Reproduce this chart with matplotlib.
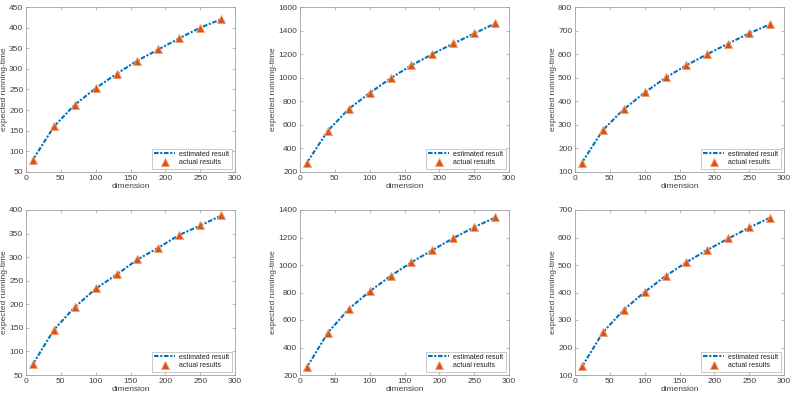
import matplotlib
matplotlib.use("Agg")
import matplotlib.pyplot as plt

plt.rcParams['font.family'] = ['Liberation Sans', 'DejaVu Sans']

dimension = [10, 40, 70, 100, 130, 160, 190, 220, 250, 280]

estimated = [
    [80, 160, 213, 253, 288, 320, 347, 374, 400, 420],
    [280, 550, 735, 870, 995, 1105, 1200, 1290, 1375, 1460],
    [140, 278, 366, 437, 500, 553, 600, 645, 688, 727],
    [73, 146, 194, 233, 263, 295, 320, 347, 367, 388],
    [258, 508, 680, 808, 920, 1020, 1108, 1195, 1275, 1345],
    [130, 255, 337, 402, 460, 510, 555, 596, 636, 672],
]
actual = [
    [80, 161, 213, 253, 288, 320, 347, 375, 400, 420],
    [280, 552, 735, 872, 997, 1105, 1202, 1292, 1377, 1460],
    [140, 279, 367, 438, 501, 554, 601, 645, 689, 727],
    [74, 146, 194, 234, 264, 296, 320, 347, 368, 389],
    [258, 508, 681, 808, 921, 1021, 1108, 1196, 1276, 1347],
    [131, 256, 338, 402, 460, 510, 556, 597, 637, 672],
]

ylims = [(50, 450), (200, 1600), (100, 800), (50, 400), (200, 1400), (100, 700)]
yticks = [
    list(range(50, 451, 50)),
    list(range(200, 1601, 200)),
    list(range(100, 801, 100)),
    list(range(50, 401, 50)),
    list(range(200, 1401, 200)),
    list(range(100, 701, 100)),
]
xticks = [0, 50, 100, 150, 200, 250, 300]

fig = plt.figure(figsize=(7.92, 4.0), dpi=100)
lefts = [26 / 792, 300 / 792, 575 / 792]
bottoms = [1 - 172 / 400, 1 - 375 / 400]
w, h = 209 / 792, 165 / 400

axis_grey = '#a0a0a0'
text_grey = '#404040'

for k in range(6):
    r, c = divmod(k, 3)
    ax = fig.add_axes([lefts[c], bottoms[r], w, h])
    ax.plot(dimension, estimated[k], linestyle=(0, (2.2, 0.8, 1.0, 0.8)),
            color='#0072BD', linewidth=1.5, label='estimated result')
    ax.plot(dimension, actual[k], linestyle='none', marker='^',
            markersize=5.5, color='#D95319', markeredgecolor='#F0A070',
            markeredgewidth=0.7, label='actual results')
    ax.set_xlim(0, 300)
    ax.set_ylim(*ylims[k])
    ax.set_xticks(xticks)
    ax.set_yticks(yticks[k])
    ax.tick_params(direction='in', length=2.5, width=0.5, labelsize=6,
                   colors=axis_grey, labelcolor=text_grey, top=True, right=True,
                   pad=2)
    for s in ax.spines.values():
        s.set_color(axis_grey)
        s.set_linewidth(0.6)
    ax.set_xlabel('dimension', fontsize=6, color=text_grey, labelpad=1)
    ax.set_ylabel('expected running-time', fontsize=6, color=text_grey,
                  labelpad=1)
    leg = ax.legend(loc='lower right', fontsize=5, frameon=True,
                    fancybox=False, borderpad=0.3, handlelength=3.0,
                    handletextpad=0.6, labelspacing=0.25, borderaxespad=0.5)
    leg.get_frame().set_edgecolor(axis_grey)
    leg.get_frame().set_linewidth(0.5)
    for t in leg.get_texts():
        t.set_color('#202020')

fig.savefig('out.png', dpi=100)
